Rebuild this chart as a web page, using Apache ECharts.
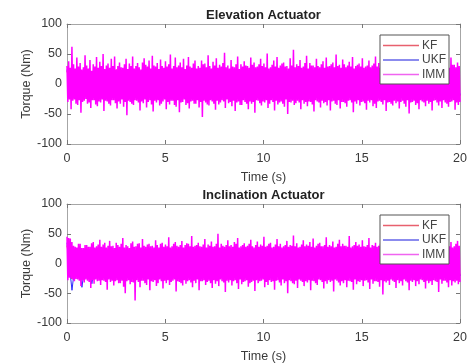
<!DOCTYPE html>
<html>
<head>
<meta charset="utf-8">
<script src="https://cdn.jsdelivr.net/npm/echarts@6/dist/echarts.min.js"></script>
<style>
html,body{margin:0;padding:0;background:#fff;}
#chart{width:471px;height:364px;}
</style>
</head>
<body>
<div id="chart"></div>
<script>
// Torque traces, stored as successive local maxima / minima (Nm) over 0-20 s
const seriesNames = ['KF', 'UKF', 'IMM'];
const xTicks = [0, 5, 10, 15, 20];
const yTicks = [-100, -50, 0, 50, 100];

// Elevation actuator
const elevImmPeaks = [
  30,38,27,62,33,26,44,29,35,24,28,48,31,26,40,22,33,29,45,27,
  37,30,50,25,31,34,27,42,30,46,24,30,36,28,27,33,42,25,34,30,
  46,26,30,35,28,24,36,43,32,29,39,26,47,31,29,35,25,41,30,27,
  38,29,33,49,26,30,44,28,31,36,28,42,25,31,45,29,27,34,39,26,
  30,27,39,33,34,28,48,30,26,37,31,43,27,32,29,35,52,28,31,26,
  40,29,28,33,46,25,33,29,38,31,30,27,44,32,36,28,29,33,42,30,
  34,28,51,26,28,32,39,29,45,27,31,34,36,29,30,26,43,31,57,28,
  33,30,40,27,29,35,47,26,35,31,31,28,42,30,28,33,38,27,44,29,
  30,33,36,28,49,30,32,27,41,33,28,31,37,29,45,26,30,32,34,29,
  43,27,29,31,39,28,31,34,46,29,35,27,28,33,41,30,33,26,37,31,
  48,29,30,33,44,27,29,35,36,30,42,26,31,33,39,28,27,34,45,30,
  33,27,38,31,30,29,47,33,35,28,29,31,40,27,44,32,32,28,36,30];
const elevImmTroughs = [
  -30,-26,-42,-28,-26,-33,-35,-27,-48,-30,-28,-25,-33,-31,-40,-27,-27,-34,-37,-29,
  -31,-26,-45,-28,-29,-33,-36,-27,-27,-32,-41,-29,-33,-26,-38,-30,-52,-28,-30,-33,
  -35,-27,-28,-31,-44,-29,-32,-26,-39,-30,-27,-34,-46,-28,-31,-27,-36,-33,-29,-26,
  -42,-30,-34,-28,-28,-35,-38,-27,-47,-31,-30,-26,-35,-32,-41,-29,-28,-33,-33,-27,
  -39,-30,-55,-28,-31,-34,-36,-27,-29,-33,-43,-28,-34,-31,-27,-29,-40,-26,-32,-30,
  -37,-28,-45,-31,-29,-35,-35,-27,-30,-33,-42,-29,-33,-30,-48,-27,-28,-32,-36,-29,
  -31,-27,-40,-33,-27,-30,-44,-28,-34,-31,-29,-33,-38,-26,-50,-30,-31,-28,-35,-32,
  -28,-31,-42,-27,-33,-30,-37,-29,-30,-34,-46,-27,-29,-31,-39,-28,-32,-30,-36,-27,
  -44,-29,-28,-33,-35,-27,-41,-30,-30,-32,-38,-28,-27,-31,-47,-29,-33,-27,-36,-30,
  -29,-32,-43,-28,-31,-27,-37,-33,-40,-29,-28,-30,-34,-27,-45,-31,-30,-33,-36,-28,
  -32,-29,-41,-30,-28,-33,-38,-27,-49,-31,-30,-28,-35,-32,-42,-27,-29,-31,-37,-28,
  -33,-30,-44,-28,-27,-31,-36,-29,-40,-27,-31,-33,-38,-30,-29,-27,-43,-31,-35,-30];
const elevKfPeaks = [22,18,25,20,16,24,19,21,17,23,20,18,24,19,22,17,21,25,18,20,
  23,19,17,22,20,24,18,21,19,23,17,22,20,18,24,21,19,23,18,20];
const elevKfTroughs = [-20,-24,-18,-22,-19,-25,-17,-21,-23,-18,-20,-24,-19,-22,-17,-21,-25,-18,-20,-23,
  -19,-22,-18,-24,-20,-17,-23,-21,-19,-22,-18,-24,-20,-21,-17,-23,-19,-22,-18,-20];
const elevUkfPeaks = [24,20,18,23,21,17,25,19,22,18,20,24,17,21,23,19,18,22,20,25,
  18,21,23,17,20,22,19,24,18,21,20,17,23,19,22,18,24,20,21,19];
const elevUkfTroughs = [-22,-18,-25,-20,-17,-23,-21,-19,-24,-18,-22,-20,-17,-23,-19,-21,-24,-18,-20,-22,
  -17,-23,-19,-21,-25,-18,-20,-22,-19,-24,-17,-21,-23,-18,-20,-22,-19,-24,-21,-18];

// Inclination actuator
const inclImmPeaks = [
  45,43,42,36,30,28,27,33,33,26,26,31,31,28,28,34,36,27,29,32,
  40,28,32,35,27,30,38,29,30,26,35,31,28,33,43,27,31,29,26,34,
  37,28,29,33,34,27,41,30,28,32,33,29,30,27,39,31,27,33,35,28,
  32,29,44,27,29,33,36,30,28,31,38,27,31,34,33,29,46,28,30,31,
  35,29,28,32,41,27,32,30,37,28,29,33,50,27,33,30,28,31,39,29,
  31,28,36,33,43,27,29,31,34,28,30,33,40,29,27,31,37,28,32,30,
  45,28,30,33,35,27,28,32,41,29,33,27,29,31,38,28,31,30,47,29,
  34,27,28,32,39,29,32,30,36,28,42,27,30,33,35,29,29,31,44,28,
  31,29,37,27,28,33,40,29,33,30,30,28,46,27,29,31,36,30,32,28,
  39,29,28,31,43,27,31,30,35,28,30,33,38,29,27,31,41,28,34,30,
  29,31,45,28,32,30,36,27,28,33,40,29,31,28,37,30,30,32,43,27,
  33,29,28,31,39,30,35,27,30,32,42,28,31,29,36,27,29,33,38,30];
const inclImmTroughs = [
  -28,-24,-25,-27,-30,-26,-27,-29,-38,-28,-32,-27,-29,-31,-41,-28,-34,-27,-30,-29,
  -36,-28,-29,-31,-44,-27,-31,-29,-37,-30,-28,-33,-33,-29,-39,-50,-30,-28,-35,-31,
  -32,-62,-28,-31,-40,-29,-29,-33,-36,-27,-45,-30,-31,-28,-38,-33,-27,-30,-42,-29,
  -33,-28,-36,-31,-29,-27,-47,-30,-31,-33,-37,-28,-34,-30,-28,-32,-40,-29,-33,-27,
  -45,-30,-30,-28,-36,-31,-29,-33,-41,-28,-34,-30,-38,-27,-30,-32,-48,-29,-32,-28,
  -37,-30,-28,-33,-43,-27,-35,-31,-30,-28,-39,-33,-31,-29,-46,-28,-33,-30,-29,-27,
  -40,-31,-36,-28,-31,-30,-44,-29,-28,-32,-37,-27,-33,-30,-50,-28,-30,-33,-35,-29,
  -41,-27,-29,-31,-38,-30,-32,-28,-45,-29,-30,-33,-36,-27,-28,-31,-42,-30,-34,-28,
  -31,-29,-47,-27,-29,-32,-37,-30,-33,-28,-40,-29,-30,-31,-44,-27,-35,-30,-31,-28,
  -38,-29,-28,-32,-43,-27,-34,-30,-30,-31,-39,-28,-52,-30,-32,-29,-36,-27,-29,-31,
  -41,-28,-33,-30,-37,-27,-30,-32,-45,-29,-31,-28,-38,-30,-35,-27,-28,-31,-42,-29,
  -33,-30,-36,-28,-30,-31,-48,-27,-34,-29,-29,-32,-40,-28,-37,-30,-32,-29,-35,-31];
const inclKfPeaks = [30,22,18,24,20,17,23,21,19,25,18,22,20,24,17,21,23,19,22,18,
  24,20,17,23,21,19,22,18,25,20,17,23,19,21,24,18,22,20,19,23];
const inclKfTroughs = [-26,-22,-19,-24,-20,-17,-23,-21,-18,-25,-19,-22,-20,-24,-17,-21,-23,-18,-22,-20,
  -19,-24,-17,-21,-23,-20,-18,-22,-25,-19,-21,-17,-23,-20,-22,-18,-24,-19,-21,-20];
const inclUkfPeaks = [35,26,22,20,24,18,21,23,19,22,17,24,20,18,23,21,19,25,18,22,
  20,17,23,19,21,24,18,22,20,19,23,17,21,24,18,22,20,23,19,21];
const inclUkfTroughs = [-45,-40,-34,-24,-20,-18,-23,-21,-19,-24,-17,-22,-20,-25,-18,-21,-23,-19,-22,-17,
  -24,-20,-18,-23,-21,-19,-22,-25,-18,-20,-23,-17,-21,-24,-19,-22,-20,-18,-23,-21];

const T_END = 20;
const colors = { KF: '#ff2a2a', UKF: '#2a2aff', IMM: '#ff00ff' };
const legendColors = { KF: '#e8606e', UKF: '#6464e8', IMM: '#f064f0' };

// Alternate maxima and minima on a uniform time grid spanning 0..T_END
function trace(peaks, troughs) {
  const vals = [];
  for (let i = 0; i < peaks.length; i++) { vals.push(peaks[i]); vals.push(troughs[i]); }
  const dt = T_END / (vals.length - 1);
  return vals.map((v, k) => [k * dt, v]);
}

const panels = [
  { title: 'Elevation Actuator', top: 24,
    data: { KF: trace(elevKfPeaks, elevKfTroughs), UKF: trace(elevUkfPeaks, elevUkfTroughs), IMM: trace(elevImmPeaks, elevImmTroughs) } },
  { title: 'Inclination Actuator', top: 204,
    data: { KF: trace(inclKfPeaks, inclKfTroughs), UKF: trace(inclUkfPeaks, inclUkfTroughs), IMM: trace(inclImmPeaks, inclImmTroughs) } }
];

const FONT = 'Liberation Sans, Arial, sans-serif';
const axisGray = '#a6a6a6';
const labelColor = '#3a3a3a';
const GL = 67, GW = 393, GH = 120;

const option = {
  animation: false,
  backgroundColor: '#ffffff',
  title: [], grid: [], xAxis: [], yAxis: [], legend: [], series: []
};

panels.forEach((p, gi) => {
  option.title.push({
    text: p.title, left: GL + GW / 2 - 5, top: p.top - 20, textAlign: 'center',
    textStyle: { fontFamily: FONT, fontSize: 13, fontWeight: 'bold', color: '#222' }
  });
  option.grid.push({ left: GL, top: p.top, width: GW, height: GH, show: false });

  const xBase = {
    gridIndex: gi, type: 'value', min: xTicks[0], max: xTicks[xTicks.length - 1], interval: 5,
    axisLine: { show: true, onZero: false, lineStyle: { color: axisGray, width: 1 } },
    axisTick: { show: true, inside: true, length: 4, lineStyle: { color: '#777' } },
    splitLine: { show: false }
  };
  option.xAxis.push(Object.assign({}, xBase, {
    position: 'bottom',
    name: 'Time (s)', nameLocation: 'middle', nameGap: 27,
    nameTextStyle: { fontFamily: FONT, fontSize: 12.5, color: labelColor },
    axisLabel: { show: true, margin: 8, fontFamily: FONT, fontSize: 12.5, color: labelColor }
  }));
  option.xAxis.push(Object.assign({}, xBase, { position: 'top', axisLabel: { show: false } }));

  const yBase = {
    gridIndex: gi, type: 'value', min: yTicks[0], max: yTicks[yTicks.length - 1], interval: 50,
    axisLine: { show: true, onZero: false, lineStyle: { color: axisGray, width: 1 } },
    axisTick: { show: true, inside: true, length: 4, lineStyle: { color: '#777' } },
    splitLine: { show: false }
  };
  option.yAxis.push(Object.assign({}, yBase, {
    position: 'left',
    name: 'Torque (Nm)', nameLocation: 'middle', nameGap: 34, nameMoveOverlap: false,
    nameTextStyle: { fontFamily: FONT, fontSize: 12.5, color: labelColor },
    axisLabel: { show: true, margin: 5, fontFamily: FONT, fontSize: 12.5, color: labelColor }
  }));
  option.yAxis.push(Object.assign({}, yBase, { position: 'right', axisLabel: { show: false } }));

  option.legend.push({
    data: seriesNames.map(n => ({ name: n, itemStyle: { color: legendColors[n] } })),
    orient: 'vertical', left: 380, top: p.top + 11, z: 20,
    itemWidth: 36, itemHeight: 1.5, itemGap: 1.5,
    icon: 'rect', padding: [4, 3, 3, 3],
    backgroundColor: '#fff', borderColor: '#555', borderWidth: 1,
    textStyle: { fontFamily: FONT, fontSize: 12, lineHeight: 13, color: '#444', padding: [0, 0, 0, -2] },
    selectedMode: false
  });

  seriesNames.forEach(name => {
    option.series.push({
      name, type: 'line', xAxisIndex: gi * 2, yAxisIndex: gi * 2,
      data: p.data[name], showSymbol: false, symbol: 'none', sampling: null,
      lineStyle: { color: colors[name], width: name === 'IMM' ? 1.5 : 1 }, itemStyle: { color: colors[name] },
      z: name === 'IMM' ? 4 : 3
    });
  });
});

const chart = echarts.init(document.getElementById('chart'), null, { renderer: 'canvas' });
chart.setOption(option);
</script>
</body>
</html>
